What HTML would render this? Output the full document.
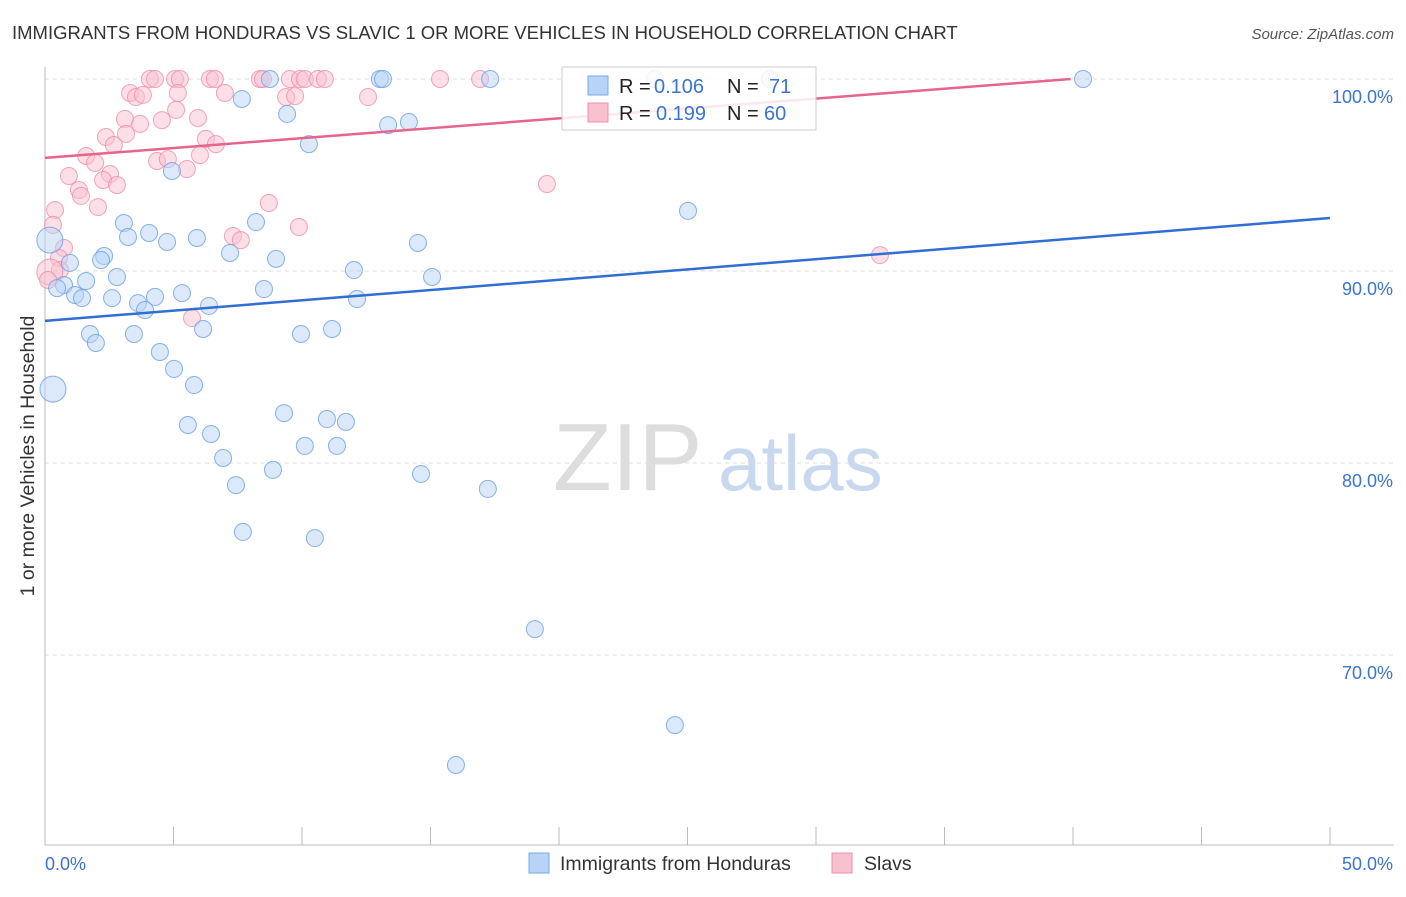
<!DOCTYPE html>
<html><head><meta charset="utf-8"><style>
body{margin:0;background:#fff;font-family:"Liberation Sans",sans-serif}
svg text{font-family:"Liberation Sans",sans-serif}
</style></head><body>
<svg id="chart" width="1406" height="892" xmlns="http://www.w3.org/2000/svg">
<text x="12" y="39" font-size="18.5" fill="#333">IMMIGRANTS FROM HONDURAS VS SLAVIC 1 OR MORE VEHICLES IN HOUSEHOLD CORRELATION CHART</text>
<text x="1394" y="39" font-size="15" fill="#555" font-style="italic" text-anchor="end">Source: ZipAtlas.com</text>
<text transform="translate(34,456) rotate(-90)" font-size="19.5" fill="#333" text-anchor="middle">1 or more Vehicles in Household</text>
<g><text x="553" y="490" font-size="96" fill="#ddd" font-family="Liberation Serif">ZIP</text><text x="718" y="490" font-size="78" fill="#c8d8ee">atlas</text></g>
<g id="grid"></g><g id="axes"></g><g id="marks"></g>
<g>
<rect x="562" y="67" width="254" height="63" fill="#fff" fill-opacity="0.85" stroke="#ccc"/>
<rect x="588" y="76" width="20" height="19" fill="#b8d3f5" stroke="#7aa8e8"/>
<rect x="588" y="103" width="20" height="19" fill="#f9c0d0" stroke="#ee90aa"/>
<text x="619" y="93" font-size="20" fill="#222">R =</text>
<text x="654" y="93" font-size="20" fill="#3b73d1">0.106</text>
<text x="727" y="93" font-size="20" fill="#222">N =</text>
<text x="769" y="93" font-size="20" fill="#3b73d1">71</text>
<text x="619" y="120" font-size="20" fill="#222">R =</text>
<text x="656" y="120" font-size="20" fill="#3b73d1">0.199</text>
<text x="727" y="120" font-size="20" fill="#222">N =</text>
<text x="764" y="120" font-size="20" fill="#3b73d1">60</text>
</g>
<g>
<rect x="529" y="853" width="20" height="20" fill="#b8d3f5" stroke="#7aa8e8"/>
<text x="560" y="870" font-size="19.5" fill="#333">Immigrants from Honduras</text>
<rect x="832" y="853" width="20" height="20" fill="#f9c0d0" stroke="#ee90aa"/>
<text x="864" y="870" font-size="19.5" fill="#333">Slavs</text>
</g>
</svg>
<script>
const yTicks=[100,90,80,70];
const yTickLabels=["100.0%","90.0%","80.0%","70.0%"];
const xTickLabels=["0.0%","50.0%"];
const hondX=[8.75,13.03,13.15,17.32,23.73,28.21,40.39,7.66,9.42,13.35,14.16,10.27,4.94,25.02,3.07,8.21,4.05,3.23,5.91,4.75,14.51,7.20,2.30,2.18,8.99,0.97,12.02,2.80,15.06,1.60,0.74,0.47,8.52,1.17,1.44,2.61,4.28,5.33,3.62,3.89,6.38,12.14,6.15,11.17,1.75,3.46,9.96,1.98,4.47,5.02,5.80,0.31,9.30,10.97,11.71,5.56,6.46,10.11,11.36,6.93,8.87,14.63,7.43,17.23,7.70,10.50,19.06,24.51,15.99,0.19];
const hondY=[100,100,100,100,100,100,100,98.96,98.18,97.60,97.76,96.61,95.21,93.13,92.50,92.55,91.98,91.77,91.72,91.51,91.46,90.94,90.78,90.57,90.63,90.42,90.05,89.69,89.69,89.48,89.27,89.11,89.06,88.75,88.59,88.59,88.65,88.85,88.33,87.97,88.18,88.54,86.98,86.98,86.72,86.72,86.72,86.25,85.78,84.90,84.06,83.85,82.60,82.29,82.14,81.98,81.51,80.89,80.89,80.26,79.64,79.43,78.85,78.65,76.41,76.09,71.35,66.35,64.27,91.61];
const slavX=[4.08,4.28,5.06,5.25,6.42,6.61,8.36,8.48,9.53,9.92,10.11,10.62,10.89,15.37,16.93,3.31,3.54,3.81,5.17,7.00,9.38,9.73,12.57,5.10,4.55,3.70,3.11,5.95,2.37,3.15,2.68,6.26,6.65,1.60,1.95,4.36,4.78,6.03,5.52,0.93,1.32,2.53,2.26,2.80,1.40,2.06,19.53,0.39,0.31,8.71,9.88,7.31,7.62,0.74,0.54,0.58,32.49,5.72,0.19,0.12];
const slavY=[100,100,100,100,100,100,100,100,100,100,100,100,100,100,100,99.27,99.06,99.17,99.27,99.27,99.06,99.11,99.06,98.39,97.86,97.66,97.92,97.97,96.98,97.14,96.56,96.88,96.61,95.99,95.63,95.73,95.83,96.04,95.31,94.95,94.22,95.05,94.74,94.48,93.91,93.33,94.53,93.18,92.40,93.54,92.29,91.82,91.61,91.20,90.68,90.05,90.83,87.55,89.95,89.53];
const hondTrend=[87.40,92.76];
const slavTrend=[95.89,101.04];
const X0=45,X1=1330,YT=79,YB=845;
function sx(v){return X0+(v/50)*(X1-X0);}
function sy(v){return YT+(100-v)*19.2;}
const NS="http://www.w3.org/2000/svg";
function mk(t,a,p){const e=document.createElementNS(NS,t);for(const k in a)e.setAttribute(k,a[k]);p.appendChild(e);return e;}
const grid=document.getElementById('grid'),axes=document.getElementById('axes'),marks=document.getElementById('marks');
yTicks.forEach((t,i)=>{
 const l=mk('line',{x1:X0,x2:1394,y1:sy(t),y2:sy(t),stroke:'#ddd','stroke-dasharray':'4,4'},grid);
 
 
 const tx=mk('text',{x:1393,y:sy(t)+24,'font-size':18,fill:'#3b73d1','text-anchor':'end'},axes);
 tx.textContent=yTickLabels[i];
 
 
});
const ax=mk('line',{x1:X0,x2:X0,y1:67,y2:YB,stroke:'#bbb'},axes);


const bx=mk('line',{x1:X0,x2:1394,y1:YB,y2:YB,stroke:'#bbb'},axes);


for(let i=1;i<=10;i++){
 const tk=mk('line',{x1:sx(i*5),x2:sx(i*5),y1:827,y2:YB,stroke:'#bbb'},axes);
 
 
}
[[0,'start',X0],[50,'end',1393]].forEach((d,i)=>{
 const t=mk('text',{x:d[2],y:870,'font-size':18,fill:'#3b73d1','text-anchor':d[1]},axes);
 t.textContent=xTickLabels[i];
 
 
});
function dots(xs,ys,fill,stroke,name,bigIdx){
 xs.forEach((x,i)=>{
  const big=bigIdx.indexOf(i)>=0;
  const c=mk('circle',{cx:sx(x),cy:sy(ys[i]),r:big?13:8.5,fill:fill,'fill-opacity':0.5,stroke:stroke,'stroke-opacity':0.8,'stroke-width':1},marks);
  
  
 });
}
dots(slavX,slavY,'#f9bfd0','#ee8fab','slavs-point',[58]);
dots(hondX,hondY,'#b8d3f5','#6b9fe3','honduras-point',[51,69]);
const l1=mk('line',{x1:sx(0),y1:sy(hondTrend[0]),x2:sx(50),y2:sy(hondTrend[1]),stroke:'#2f6fd3','stroke-width':2.5},marks);


const xe=50*(100-slavTrend[0])/(slavTrend[1]-slavTrend[0]);
const l2=mk('line',{x1:sx(0),y1:sy(slavTrend[0]),x2:sx(Math.min(50,xe)),y2:sy(Math.min(100,slavTrend[1])),stroke:'#e8648c','stroke-width':2.5},marks);


</script>
</body></html>
